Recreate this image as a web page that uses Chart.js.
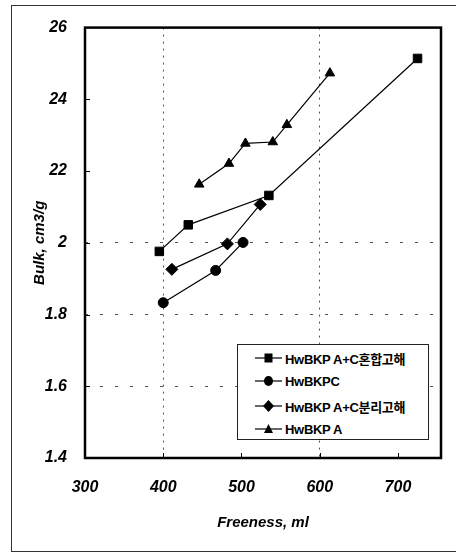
<!DOCTYPE html>
<html><head><meta charset="utf-8">
<script src="https://cdn.jsdelivr.net/npm/chart.js@4"></script>
<style>
html,body{margin:0;padding:0;width:456px;height:553px;overflow:hidden;background:#fff}
#frame{position:absolute;left:11px;top:5px;width:470px;height:545px;border:1px solid #333;}
#wrap{position:absolute;left:0;top:0;width:456px;height:553px}
#legend{position:absolute;left:237px;top:344px;width:190px;height:94px;border:1px solid #222;background:#fff;
  font:bold 13px 'Liberation Sans',Arial,'Noto Sans CJK KR',sans-serif;color:#000}
.row{position:absolute;left:17px;height:20px;display:flex;align-items:center;white-space:nowrap;letter-spacing:-0.3px}
.row svg{margin-right:3px}
</style></head>
<body>
<div id="frame"></div>
<div id="wrap"><canvas id="c" width="456" height="553"></canvas></div>
<div id="legend"></div>
<script>
// ---- data ----
const seriesNames = ['HwBKP A+C혼합고해', 'HwBKPC', 'HwBKP A+C분리고해', 'HwBKP A'];
const freenessMix = [395, 432, 535, 725];
const bulkMix     = [1.976, 2.050, 2.132, 2.514];
const freenessC   = [400, 467, 502];
const bulkC       = [1.833, 1.923, 2.001];
const freenessSep = [411, 482, 524];
const bulkSep     = [1.926, 1.997, 2.107];
const freenessA   = [446, 484, 505, 540, 558, 613];
const bulkA       = [2.163, 2.221, 2.277, 2.281, 2.329, 2.473];
const xTickValues = [300, 400, 500, 600, 700];
const yTickValues = [1.4, 1.6, 1.8, 2.0, 2.2, 2.4, 2.6];
const yTickLabels = ['1.4', '1.6', '1.8', '2', '22', '24', '26'];
const xGridValues = [400, 600];
const yGridValues = [1.6, 1.8, 2.0];

function pts(xs, ys){ return xs.map((x,i)=>({x:x, y:ys[i]})); }

const styles = [
  {pointStyle:'rect', pointRadius:6},
  {pointStyle:'circle', pointRadius:5},
  {pointStyle:'rectRot', pointRadius:6},
  {pointStyle:'triangle', pointRadius:5.5}
];
const allData = [pts(freenessMix,bulkMix), pts(freenessC,bulkC), pts(freenessSep,bulkSep), pts(freenessA,bulkA)];

const datasets = allData.map((d,i)=>({
  label: seriesNames[i], data: d, showLine: true,
  borderColor:'#000', backgroundColor:'#000', borderWidth:1.2,
  pointStyle: styles[i].pointStyle, pointRadius: styles[i].pointRadius,
  pointBorderWidth:1, pointBorderColor:'#000', pointBackgroundColor:'#000'
}));

const tickFont = {family:"'Liberation Sans', Arial, sans-serif", size:16, weight:'bold', style:'italic'};
const titleFont = {family:"'Liberation Sans', Arial, sans-serif", size:15, weight:'bold', style:'italic'};

const framePlugin = {
  id:'framePlugin',
  afterDatasetsDraw(chart){
    const {ctx, chartArea:a, scales} = chart;
    ctx.save();
    ctx.strokeStyle = '#000';
    ctx.lineWidth = 1;
    ctx.beginPath();
    xTickValues.slice(1).forEach(v=>{
      const px = Math.round(scales.x.getPixelForValue(v)) + 0.5;
      ctx.moveTo(px, a.bottom); ctx.lineTo(px, a.bottom - 5);
    });
    yTickValues.slice(1, -1).forEach(v=>{
      const py = Math.round(scales.y.getPixelForValue(v)) + 0.5;
      ctx.moveTo(a.left, py); ctx.lineTo(a.left + 5, py);
    });
    ctx.stroke();
    ctx.lineWidth = 2.5;
    ctx.strokeRect(a.left, a.top, a.right - a.left, a.bottom - a.top);
    ctx.restore();
  }
};

new Chart(document.getElementById('c'), {
  type:'scatter',
  data:{datasets},
  plugins:[framePlugin],
  options:{
    responsive:false, animation:false, devicePixelRatio:1,
    layout:{padding:{top:25, right:15, left:0, bottom:0}},
    plugins:{legend:{display:false}, tooltip:{enabled:false}},
    scales:{
      x:{
        type:'linear', min:300, max:755,
        afterFit(s){ s.height = 95; },
        afterBuildTicks(s){ s.ticks = xTickValues.map(v=>({value:v})); },
        grid:{drawTicks:false, lineWidth:1,
          color:(c)=> (c.tick && xGridValues.includes(c.tick.value)) ? '#555' : 'rgba(0,0,0,0)'},
        border:{display:false, dash:[2,5]},
        ticks:{padding:20, color:'#000', font:tickFont, maxRotation:0, autoSkip:false},
        title:{display:true, text:'Freeness, ml', color:'#000', font:titleFont, padding:{top:0,bottom:21}}
      },
      y:{
        type:'linear', min:1.4, max:2.6,
        afterFit(s){ s.width = 85; },
        afterBuildTicks(s){ s.ticks = yTickValues.map(v=>({value:v})); },
        grid:{drawTicks:false, lineWidth:1,
          color:(c)=> (c.tick && yGridValues.some(g=>Math.abs(g-c.tick.value)<1e-6)) ? '#555' : 'rgba(0,0,0,0)'},
        border:{display:false, dash:[3,12]},
        ticks:{padding:18, color:'#000', font:tickFont, autoSkip:false,
          callback:(v,i)=> yTickLabels[i]},
        title:{display:true, text:'Bulk, cm3/g', color:'#000', font:titleFont, padding:{top:31,bottom:0}}
      }
    }
  }
});

// ---- legend (HTML) ----
const legend = document.getElementById('legend');
const rowTops = [3, 26, 51, 74];
function markerSvg(style){
  let m = '';
  if (style==='rect') m = '<rect x="9.5" y="5.5" width="8" height="9" fill="#000"/>';
  else if (style==='circle') m = '<ellipse cx="13.5" cy="10" rx="4.5" ry="5" fill="#000"/>';
  else if (style==='rectRot') m = '<polygon points="13.5,4 19,10 13.5,16 8,10" fill="#000"/>';
  else m = '<polygon points="13.5,5 18,14 9,14" fill="#000"/>';
  return '<svg width="27" height="20" viewBox="0 0 27 20"><line x1="0" y1="10" x2="27" y2="10" stroke="#000" stroke-width="1.2"/>'+m+'</svg>';
}
seriesNames.forEach((n,i)=>{
  const r = document.createElement('div');
  r.className = 'row';
  r.style.top = rowTops[i] + 'px';
  r.innerHTML = markerSvg(styles[i].pointStyle) + '<span></span>';
  r.querySelector('span').textContent = n;
  legend.appendChild(r);
});
</script>
</body></html>
